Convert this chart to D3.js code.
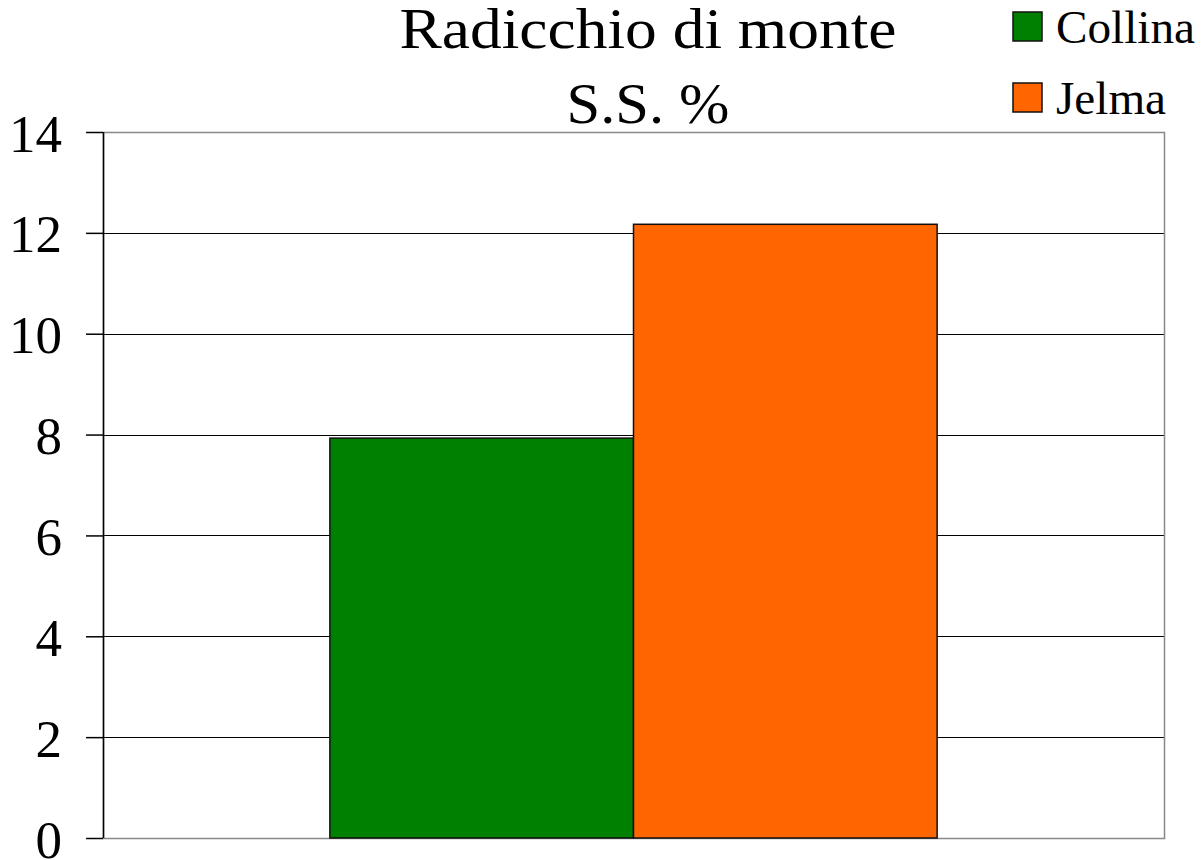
<!DOCTYPE html>
<html>
<head>
<meta charset="utf-8">
<title>Radicchio di monte S.S. %</title>
<script src="https://cdn.jsdelivr.net/npm/d3@7"></script>
<style>
    body { margin: 0; background: white; }
    svg { display: block; font-family: "Liberation Serif", "DejaVu Serif", serif; }
</style>
</head>
<body>
<script>
    let categories = [""]
    let seriesNames = ["Collina", "Jelma"]
    let seriesColors = ["#008000", "#ff6600"]
    let values = [[7.93, 12.17]]
    let yTicks = [0, 2, 4, 6, 8, 10, 12, 14]
    let titleLines = ["Radicchio di monte", "S.S. %"]

    let width = 1201
    let height = 860
    let margin = {top: 132, right: 37, bottom: 22, left: 103}
    let plotW = width - margin.left - margin.right
    let plotH = height - margin.top - margin.bottom

    let svg = d3.select("body").append("svg")
        .attr("width", width)
        .attr("height", height)

    let g = svg.append("g")
        .attr("transform", `translate(${margin.left},${margin.top})`)

    let y = d3.scaleLinear().domain([0, 14]).range([plotH, 0])
    let x0 = d3.scaleBand().domain(categories).range([0, plotW]).padding(0.272)
    let x1 = d3.scaleBand().domain(seriesNames).range([0, x0.bandwidth()])

    // grid lines
    g.selectAll(".grid")
        .data(yTicks.filter(t => t > 0 && t < 14))
        .enter().append("line")
        .attr("x1", 0).attr("x2", plotW)
        .attr("y1", d => Math.round(y(d)) + 0.5)
        .attr("y2", d => Math.round(y(d)) + 0.5)
        .attr("stroke", "#000").attr("stroke-width", 1)

    // frame
    g.append("rect")
        .attr("x", 0.5).attr("y", 0.5)
        .attr("width", plotW).attr("height", plotH)
        .attr("fill", "none").attr("stroke", "#888").attr("stroke-width", 1.5)

    // bars
    categories.forEach((c, ci) => {
        seriesNames.forEach((s, si) => {
            g.append("rect")
                .attr("x", x0(c) + x1(s))
                .attr("y", y(values[ci][si]))
                .attr("width", x1.bandwidth())
                .attr("height", plotH - y(values[ci][si]))
                .attr("fill", seriesColors[si])
                .attr("stroke", "#111").attr("stroke-width", 1.5)
        })
    })

    // y axis
    let yAxis = d3.axisLeft(y).tickValues(yTicks).tickSize(17).tickPadding(24)
    let ax = g.append("g").call(yAxis)
    ax.select(".domain").attr("stroke", "#000").attr("stroke-width", 1.5)
        .attr("d", `M0.5,0V${plotH}`)
    ax.selectAll(".tick line").attr("stroke", "#000").attr("stroke-width", 1.5)
    ax.selectAll(".tick text")
        .attr("font-family", "Liberation Serif, serif")
        .attr("font-size", 53)
        .attr("fill", "#000")
        .attr("dy", "0.36em")

    // title
    let titleWidths = [497, 163]
    let title = svg.append("text")
        .attr("text-anchor", "middle")
        .attr("font-size", 57).attr("fill", "#000")
    titleLines.forEach((t, i) => {
        title.append("tspan")
            .attr("x", 648).attr("y", 48 + i * 75)
            .attr("textLength", titleWidths[i])
            .attr("lengthAdjust", "spacingAndGlyphs")
            .text(t)
    })

    // legend
    let legendWidths = [139, 110]
    let legend = svg.append("g")
    seriesNames.forEach((s, i) => {
        legend.append("rect")
            .attr("x", 1013).attr("y", 12 + i * 71)
            .attr("width", 29).attr("height", 29)
            .attr("fill", seriesColors[i]).attr("stroke", "#111").attr("stroke-width", 1.5)
        legend.append("text")
            .attr("x", 1056).attr("y", 43 + i * 71)
            .attr("font-size", 46).attr("fill", "#000")
            .attr("textLength", legendWidths[i])
            .attr("lengthAdjust", "spacingAndGlyphs")
            .text(s)
    })
</script>
</body>
</html>
